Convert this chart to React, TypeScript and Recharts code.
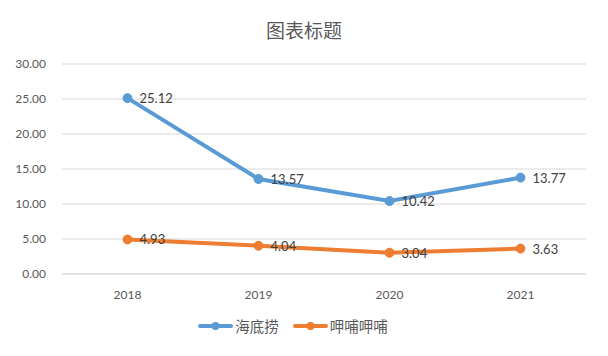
import React from 'react';
import { LineChart, Line, XAxis, YAxis, CartesianGrid, Legend, Customized } from 'recharts';

const categories = ['2018', '2019', '2020', '2021'];
const haidilao = [25.12, 13.57, 10.42, 13.77];
const xiabu = [4.93, 4.04, 3.04, 3.63];
const yTicks = [0, 5, 10, 15, 20, 25, 30];
const seriesNames = ['海底捞', '呷哺呷哺'];
const colors = ['#5B9BD5', '#ED7D31'];

const data = categories.map((c, i) => ({ year: c, a: haidilao[i], b: xiabu[i] }));

const FONT = "Lato, 'Noto Sans CJK SC', sans-serif";

const renderLabel = (props: any) => {
  const { x, y, value } = props;
  return (
    <text x={x + 12} y={y + 5} fill="#404040" fontSize={13} fontFamily={FONT} textAnchor="start">
      {Number(value).toFixed(2)}
    </text>
  );
};

const LegendContent = () => (
  <div style={{ display: 'flex', justifyContent: 'center', alignItems: 'center', fontFamily: FONT, fontSize: 14.5, color: '#595959', gap: 14 }}>
    {seriesNames.map((n, i) => (
      <div key={n} style={{ display: 'flex', alignItems: 'center' }}>
        <svg width={35} height={10} style={{ marginRight: 2 }}>
          <line x1={2} y1={5} x2={33} y2={5} stroke={colors[i]} strokeWidth={4} strokeLinecap="round" />
          <circle cx={17.5} cy={5} r={4} fill={colors[i]} />
        </svg>
        <span>{n}</span>
      </div>
    ))}
  </div>
);

const Frame = () => (
  <rect x={3.5} y={4.5} width={600} height={345} fill="none" stroke="#D0D0D0" strokeWidth={1} />
);

export default function App() {
  return (
    <div style={{ margin: -8, width: 608, height: 356, position: 'relative', background: '#fff' }}>
      <div style={{ position: 'absolute', left: 0, top: 16, width: 608, textAlign: 'center', fontFamily: FONT, fontSize: 19, color: '#595959' }}>
        图表标题
      </div>
      <div style={{ position: 'absolute', left: 0, top: 0 }}>
        <LineChart width={608} height={356} data={data} margin={{ top: 64, right: 22, bottom: 32, left: 0 }}>
          <Customized component={Frame} />
          <CartesianGrid vertical={false} stroke="#D9D9D9" />
          <XAxis
            dataKey="year"
            height={30}
            padding={{ left: 65.5, right: 65.5 }}
            axisLine={{ stroke: '#D9D9D9' }}
            tickLine={false}
            tick={{ fill: '#595959', fontSize: 12, fontFamily: FONT }}
            tickMargin={10}
          />
          <YAxis
            width={62}
            domain={[0, 30]}
            ticks={yTicks}
            axisLine={false}
            tickLine={false}
            tickFormatter={(v: number) => v.toFixed(2)}
            tick={{ fill: '#595959', fontSize: 12, fontFamily: FONT }}
            tickMargin={10}
          />
          <Legend verticalAlign="bottom" height={20} wrapperStyle={{ bottom: 21 }} content={<LegendContent />} />
          <Line type="linear" dataKey="a" name={seriesNames[0]} stroke={colors[0]} strokeWidth={4}
            dot={{ r: 4.5, fill: colors[0], stroke: colors[0], strokeWidth: 1 }} isAnimationActive={false} label={renderLabel} />
          <Line type="linear" dataKey="b" name={seriesNames[1]} stroke={colors[1]} strokeWidth={4}
            dot={{ r: 4.5, fill: colors[1], stroke: colors[1], strokeWidth: 1 }} isAnimationActive={false} label={renderLabel} />
        </LineChart>
      </div>
    </div>
  );
}
